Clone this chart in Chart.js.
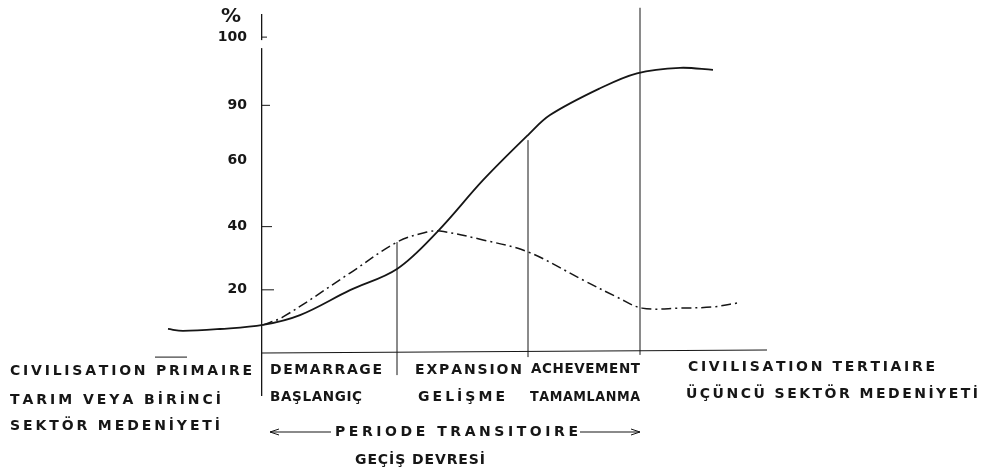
<!DOCTYPE html>
<html>
<head>
<meta charset="utf-8">
<script src="https://cdn.jsdelivr.net/npm/chart.js@4.4.1/dist/chart.umd.min.js"></script>
<style>
  html, body { margin: 0; padding: 0; background: #ffffff; }
  #wrap { width: 993px; height: 471px; }
</style>
</head>
<body>
<div id="wrap"><canvas id="c" width="993" height="471"></canvas></div>
<script>
// ---------------- data ----------------
// % axis: labels drawn (almost) evenly spaced on the original drawing
const yTickValues = [20, 40, 60, 90, 100];
const yStops      = [0, 20, 40, 60, 90, 100];
// transition phase boundaries on the time axis (démarrage, expansion, achèvement, end)
const phaseBounds = [0, 1.35, 2.66, 3.78];

// solid curve
const solidTime = [-0.94, -0.79, -0.42, 0.01, 0.38, 0.88, 1.35, 1.76, 2.21, 2.66, 2.88, 3.38, 3.75, 4.18, 4.51];
const solidPct  = [7.6, 7.0, 7.6, 8.9, 12.0, 19.9, 26.6, 38.6, 54.0, 73.8, 84.7, 92.5, 94.7, 95.5, 95.2];

// dash-dot curve
const dashTime = [0.01, 0.21, 0.88, 1.35, 1.65, 1.78, 2.21, 2.66, 3.21, 3.55, 3.80, 4.18, 4.51, 4.75];
const dashPct  = [8.9, 11.4, 25.3, 35.1, 38.3, 38.6, 35.8, 32.0, 23.1, 17.7, 14.2, 14.2, 14.6, 15.8];

// texts
const unitLabel     = '%';
const leftLabels    = ['CIVILISATION PRIMAIRE', 'TARIM VEYA BİRİNCİ', 'SEKTÖR MEDENİYETİ'];
const phaseLabels   = ['DEMARRAGE', 'EXPANSION', 'ACHEVEMENT'];
const phaseLabelsTr = ['BAŞLANGIÇ', 'GELİŞME', 'TAMAMLANMA'];
const rightLabels   = ['CIVILISATION TERTIAIRE', 'ÜÇÜNCÜ SEKTÖR MEDENİYETİ'];
const periodLabels  = ['PERIODE TRANSITOIRE', 'GEÇİŞ DEVRESİ'];

// ---------------- drawing setup (positions / styles) ----------------
const INK = '#161616';
const yStopLevels = [0, 1, 2, 3.05, 3.92, 5];   // spacing of the axis stops on the drawing

function toLevel(v) {
  const n = yStops.length - 1;
  if (v <= yStops[0]) return yStopLevels[0] + (v - yStops[0]) / (yStops[1] - yStops[0]) * (yStopLevels[1] - yStopLevels[0]);
  if (v >= yStops[n]) return yStopLevels[n] + (v - yStops[n]) / (yStops[n] - yStops[n - 1]) * (yStopLevels[n] - yStopLevels[n - 1]);
  for (let i = 0; i < n; i++) {
    if (v <= yStops[i + 1]) {
      return yStopLevels[i] + (v - yStops[i]) / (yStops[i + 1] - yStops[i]) * (yStopLevels[i + 1] - yStopLevels[i]);
    }
  }
}
function fromLevel(l) {
  const n = yStops.length - 1;
  if (l <= yStopLevels[0]) return yStops[0] + (l - yStopLevels[0]) / (yStopLevels[1] - yStopLevels[0]) * (yStops[1] - yStops[0]);
  if (l >= yStopLevels[n]) return yStops[n] + (l - yStopLevels[n]) / (yStopLevels[n] - yStopLevels[n - 1]) * (yStops[n] - yStops[n - 1]);
  for (let i = 0; i < n; i++) {
    if (l <= yStopLevels[i + 1]) {
      return yStops[i] + (l - yStopLevels[i]) / (yStopLevels[i + 1] - yStopLevels[i]) * (yStops[i + 1] - yStops[i]);
    }
  }
}

class StopScale extends Chart.LinearScale {
  getPixelForValue(value) {
    if (value === null || value === undefined) return NaN;
    return super.getPixelForValue(toLevel(value));
  }
  getValueForPixel(pixel) {
    return fromLevel(super.getValueForPixel(pixel));
  }
}
StopScale.id = 'stops';
StopScale.defaults = Chart.LinearScale.defaults;
Chart.register(StopScale);

const layoutCfg = {
  axisLeft: 262,
  xRange: [0, 7.31],
  yRange: [-0.665, 5.35],
  baselineEnd: 5.05,
  phaseLineTop: [35.1, 71.0, 104.3],
  phaseLineBottom: [-7.0, -1.3, -0.6],
  strayMark: [-1.07, -0.75, -1.3],
  tickLen: [12, 10, 0, 8, 5],
  font: 'bold 14px "DejaVu Sans"',
  texts: [
    // [text, left, centerY, width]
    [leftLabels[0], 10, 371, 242],
    [leftLabels[1], 10, 400, 211],
    [leftLabels[2], 10, 426, 210],
    [phaseLabels[0], 270, 370, 112],
    [phaseLabels[1], 415, 370, 107],
    [phaseLabels[2], 531, 369, 109],
    [phaseLabelsTr[0], 270, 397, 92],
    [phaseLabelsTr[1], 418, 397, 87],
    [phaseLabelsTr[2], 530, 397, 110],
    [rightLabels[0], 688, 367, 247],
    [rightLabels[1], 686, 394, 292],
    [periodLabels[0], 335, 432, 243],
    [periodLabels[1], 355, 460, 130]
  ],
  arrowY: 432,
  arrowLeft: [270, 331],
  arrowRight: [580, 640]
};

// draws text letter by letter so that it fills the given width
function spacedText(ctx, text, left, y, width) {
  const chars = Array.from(text);
  const widths = chars.map(c => ctx.measureText(c).width);
  const total = widths.reduce((a, b) => a + b, 0);
  const minGap = 0.6;
  let gap = chars.length > 1 ? (width - total) / (chars.length - 1) : 0;
  let sx = 1;
  if (gap < minGap) {
    gap = minGap;
    sx = width / (total + minGap * (chars.length - 1));
  }
  ctx.save();
  ctx.translate(left, 0);
  ctx.scale(sx, 1);
  let x = 0;
  chars.forEach((c, i) => { ctx.fillText(c, x, y); x += widths[i] + gap; });
  ctx.restore();
}

const decor = {
  id: 'decor',
  afterDatasetsDraw(chart) {
    const { ctx, scales: { x, y } } = chart;
    const line = (x1, y1, x2, y2, w) => {
      ctx.lineWidth = w || 1.1;
      ctx.beginPath(); ctx.moveTo(x1, y1); ctx.lineTo(x2, y2); ctx.stroke();
    };
    ctx.save();
    ctx.strokeStyle = INK;
    ctx.fillStyle = INK;
    const x0 = x.getPixelForValue(0);
    const yBase = y.getPixelForValue(0);

    // small break in the axis just under the 100 mark
    ctx.fillStyle = '#ffffff';
    ctx.fillRect(x0 - 3, y.getPixelForValue(100) + 3, 6, 8);
    ctx.fillStyle = INK;

    // baseline
    line(x0, yBase, x.getPixelForValue(layoutCfg.baselineEnd), yBase - 3, 1.1);

    // phase boundary lines
    phaseBounds.slice(1).forEach((b, i) => {
      const px = x.getPixelForValue(b);
      line(px, y.getPixelForValue(layoutCfg.phaseLineTop[i]), px, y.getPixelForValue(layoutCfg.phaseLineBottom[i]), 1.0);
    });

    // stray short stroke over "PRIMAIRE"
    const sm = layoutCfg.strayMark;
    line(x.getPixelForValue(sm[0]), y.getPixelForValue(sm[2]), x.getPixelForValue(sm[1]), y.getPixelForValue(sm[2]), 1.0);

    // inner tick marks
    yTickValues.forEach((v, i) => {
      const len = layoutCfg.tickLen[i];
      if (len > 0) line(x0, y.getPixelForValue(v), x0 + len, y.getPixelForValue(v), 1.0);
    });

    // unit label
    ctx.font = 'bold 20px "DejaVu Sans"';
    ctx.textAlign = 'center';
    ctx.textBaseline = 'middle';
    ctx.fillText(unitLabel, 231, 17);

    // texts
    ctx.font = layoutCfg.font;
    ctx.textAlign = 'left';
    layoutCfg.texts.forEach(([t, l, cy, w]) => spacedText(ctx, t, l, cy, w));

    // arrows of the transitional period
    const ay = layoutCfg.arrowY;
    const [l1, l2] = layoutCfg.arrowLeft;
    const [r1, r2] = layoutCfg.arrowRight;
    line(l1, ay, l2, ay, 1.1);
    line(l1, ay, l1 + 9, ay - 3, 1.0);
    line(l1, ay, l1 + 9, ay + 3, 1.0);
    line(r1, ay, r2, ay, 1.1);
    line(r2, ay, r2 - 9, ay - 3, 1.0);
    line(r2, ay, r2 - 9, ay + 3, 1.0);
    ctx.restore();
  }
};

const toPoints = (ts, vs) => ts.map((t, i) => ({ x: t, y: vs[i] }));

new Chart(document.getElementById('c').getContext('2d'), {
  type: 'line',
  data: {
    datasets: [
      {
        data: toPoints(solidTime, solidPct),
        borderColor: INK,
        borderWidth: 1.8,
        pointRadius: 0,
        tension: 0.35,
        clip: false
      },
      {
        data: toPoints(dashTime, dashPct),
        borderColor: INK,
        borderWidth: 1.5,
        borderDash: [10, 4, 2, 4],
        pointRadius: 0,
        tension: 0.35,
        clip: false
      }
    ]
  },
  options: {
    responsive: false,
    animation: false,
    devicePixelRatio: 1,
    layout: { padding: { left: 0, right: 0, top: 15, bottom: 76 } },
    plugins: { legend: { display: false }, tooltip: { enabled: false } },
    scales: {
      x: {
        type: 'linear', display: false, bounds: 'data',
        afterDataLimits: (s) => { s.min = layoutCfg.xRange[0]; s.max = layoutCfg.xRange[1]; }
      },
      y: {
        type: 'stops',
        position: 'left',
        bounds: 'data',
        afterDataLimits: (s) => { s.min = layoutCfg.yRange[0]; s.max = layoutCfg.yRange[1]; },
        afterFit: (s) => { s.width = layoutCfg.axisLeft; s.paddingTop = 0; s.paddingBottom = 0; },
        afterBuildTicks: (s) => { s.ticks = yTickValues.map(v => ({ value: v })); },
        grid: { display: false, drawTicks: false },
        border: { display: true, color: INK, width: 1.3 },
        ticks: {
          color: INK,
          font: { family: 'DejaVu Sans', size: 14, weight: 'bold' },
          padding: 15,
          autoSkip: false,
          callback: (v) => String(v)
        }
      }
    }
  },
  plugins: [decor]
});
</script>
</body>
</html>
